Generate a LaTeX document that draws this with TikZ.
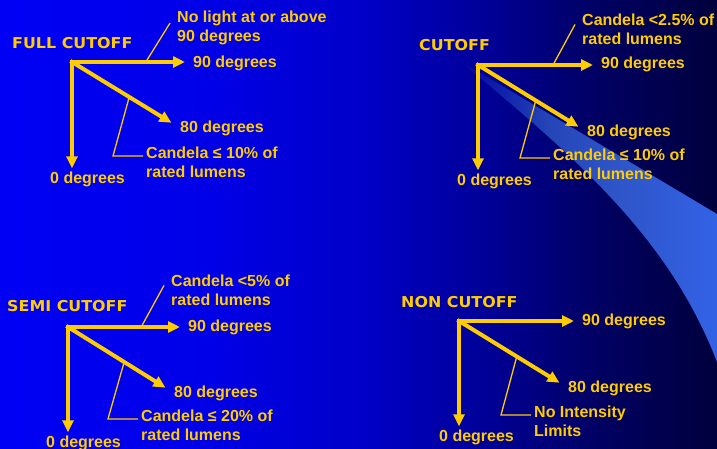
\documentclass[tikz,border=0pt]{standalone}
\usepackage{fontspec}
\setmainfont{Liberation Sans}
\newfontfamily\headfont{DejaVu Sans}
\usetikzlibrary{arrows.meta,calc}
\definecolor{gold}{RGB}{255,204,0}
\pgfdeclarehorizontalshading{bgshade}{100bp}{rgb(0bp)=(0,0,0.96); rgb(25bp)=(0,0,0.96); rgb(39bp)=(0,0,0.91); rgb(50bp)=(0,0,0.79); rgb(58.5bp)=(0,0,0.6); rgb(67bp)=(0,0,0.38); rgb(75bp)=(0,0,0.24); rgb(100bp)=(0,0,0.24)}
\pgfdeclarehorizontalshading{swooshshade}{100bp}{rgb(0bp)=(0,0,0.62); rgb(25bp)=(0,0,0.62); rgb(42.5bp)=(0.14,0.27,0.72); rgb(55bp)=(0.18,0.33,0.78); rgb(75bp)=(0.2,0.385,0.9); rgb(100bp)=(0.2,0.385,0.9)}
\begin{document}
\begin{tikzpicture}[x=1pt, y=-1pt, >={Triangle[length=12pt,width=11pt]},
    every node/.style={text=gold, font=\bfseries\fontsize{16}{18.8}\selectfont, inner sep=0pt},
    head/.style={anchor=west, font=\headfont\bfseries\fontsize{15}{18}\selectfont},
    lbl/.style={anchor=west},
    note/.style={anchor=north west, align=left, inner xsep=3pt},
    arr/.style={->, gold, line width=4pt, line cap=rect},
    lead/.style={gold, line width=1.3pt}]
    % 背景与光带
    \useasboundingbox (0,0) rectangle (717,449);
    \shade[shading=bgshade] (0,0) rectangle (717,449);
    \shade[shading=swooshshade] (457,59) -- (717,214) -- (717,362) .. controls (670,240) and (580,160) .. (457,59) -- cycle;

    % FULL CUTOFF
    \coordinate (FCo) at (72,62);
    \node[head] (FC) at (12,43) {\scalebox{1.06}[1]{FULL CUTOFF}};
    \node[lbl] (FC90) at (193,63) {90 degrees};
    \node[lbl] (FC80) at (180,128) {80 degrees};
    \node[lbl] (FC0) at (50,179) {0 degrees};
    \node[note] (FCtop) at (174,11) {No light at or above\\90 degrees};
    \node[note] (FCbot) at (143,147) {Candela ≤ 10\% of\\rated lumens};

    \draw[arr, shorten >=8pt] (FCo) -- (FCo -| FC90.west);
    \draw[arr, shorten >=10pt] (FCo) -- (FC80.west);
    \draw[arr, shorten >=3pt] (FCo) -- (FCo |- FC0.north);
    \draw[lead] ($(FCo)!0.61!(FCo -| FC90.west)$) -- ([shift={(-4pt,5pt)}]FCtop.west);
    \draw[lead] ($(FCo)!0.53!(FC80.west)$) -- ([xshift=-30pt,yshift=-9pt]FCbot.north west) -- ([yshift=-9pt]FCbot.north west);

    % CUTOFF
    \coordinate (Co) at (478,65);
    \node[head] (C) at (419,45) {\scalebox{1.06}[1]{CUTOFF}};
    \node[lbl] (C90) at (601,64) {90 degrees};
    \node[lbl] (C80) at (587,132) {80 degrees};
    \node[lbl] (C0) at (457,181) {0 degrees};
    \node[note] (Ctop) at (579,14) {Candela <2.5\% of\\rated lumens};
    \node[note] (Cbot) at (550,149) {Candela ≤ 10\% of\\rated lumens};

    \draw[arr, shorten >=8pt] (Co) -- (Co -| C90.west);
    \draw[arr, shorten >=10pt] (Co) -- (C80.west);
    \draw[arr, shorten >=3pt] (Co) -- (Co |- C0.north);
    \draw[lead] ($(Co)!0.61!(Co -| C90.west)$) -- ([shift={(-4pt,5pt)}]Ctop.west);
    \draw[lead] ($(Co)!0.53!(C80.west)$) -- ([xshift=-30pt,yshift=-9pt]Cbot.north west) -- ([yshift=-9pt]Cbot.north west);

    % SEMI CUTOFF
    \coordinate (So) at (68,327);
    \node[head] (S) at (7,306) {\scalebox{1.06}[1]{SEMI CUTOFF}};
    \node[lbl] (S90) at (188,327) {90 degrees};
    \node[lbl] (S80) at (174,393) {80 degrees};
    \node[lbl] (S0) at (46,443) {0 degrees};
    \node[note] (Stop) at (168,275) {Candela <5\% of\\rated lumens};
    \node[note] (Sbot) at (138,410) {Candela ≤ 20\% of\\rated lumens};

    \draw[arr, shorten >=8pt] (So) -- (So -| S90.west);
    \draw[arr, shorten >=10pt] (So) -- (S80.west);
    \draw[arr, shorten >=3pt] (So) -- (So |- S0.north);
    \draw[lead] ($(So)!0.61!(So -| S90.west)$) -- ([shift={(-4pt,5pt)}]Stop.west);
    \draw[lead] ($(So)!0.53!(S80.west)$) -- ([xshift=-30pt,yshift=-9pt]Sbot.north west) -- ([yshift=-9pt]Sbot.north west);

    % NON CUTOFF
    \coordinate (No) at (459,321);
    \node[head] (N) at (401,302) {\scalebox{1.06}[1]{NON CUTOFF}};
    \node[lbl] (N90) at (582,321) {90 degrees};
    \node[lbl] (N80) at (568,388) {80 degrees};
    \node[lbl] (N0) at (439,437) {0 degrees};
    \node[note] (Nbot) at (531,406) {No Intensity\\Limits};

    \draw[arr, shorten >=8pt] (No) -- (No -| N90.west);
    \draw[arr, shorten >=10pt] (No) -- (N80.west);
    \draw[arr, shorten >=3pt] (No) -- (No |- N0.north);
    \draw[lead] ($(No)!0.53!(N80.west)$) -- ([xshift=-30pt,yshift=-9pt]Nbot.north west) -- ([yshift=-9pt]Nbot.north west);
\end{tikzpicture}
\end{document}
